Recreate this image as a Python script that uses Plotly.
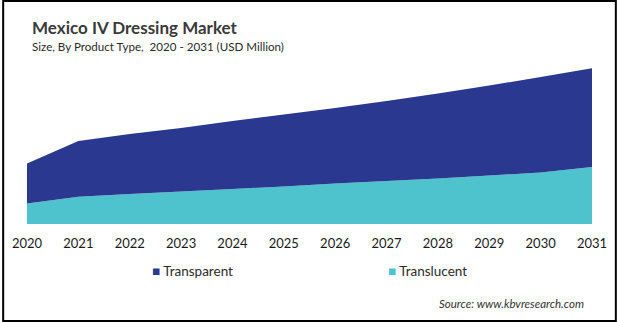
import plotly.graph_objects as go

# Market size by product type (USD Million)
years = [2020, 2021, 2022, 2023, 2024, 2025, 2026, 2027, 2028, 2029, 2030, 2031]
translucent = [20.5, 27.3, 30.0, 32.5, 35.0, 37.5, 40.5, 43.0, 45.5, 48.5, 51.5, 57.0]
transparent = [40.0, 55.7, 60.0, 63.5, 68.0, 72.0, 75.5, 80.0, 85.0, 90.0, 95.5, 98.7]
tick_labels = [str(y) for y in years]

series_names = ["Transparent", "Translucent"]
series_colors = {"Transparent": "#2B388F", "Translucent": "#4EC3CD"}

W, H = 619, 322
ML, MR, MT, MB = 25, 25, 60, 98
PW, PH = W - ML - MR, H - MT - MB

fig = go.Figure()
# bottom layer first, then the stacked layer on top
fig.add_trace(go.Scatter(
    x=years, y=translucent, name="Translucent", stackgroup="size",
    mode="none", fillcolor=series_colors["Translucent"], line=dict(width=0),
    showlegend=False,
))
fig.add_trace(go.Scatter(
    x=years, y=transparent, name="Transparent", stackgroup="size",
    mode="none", fillcolor=series_colors["Transparent"], line=dict(width=0),
    showlegend=False,
))

base_font = "Lato, 'Open Sans', sans-serif"

annotations = [
    dict(text="<b>Mexico IV Dressing Market</b>", x=28 - ML, y=27, font=dict(size=17, color="#3a3a3a")),
    dict(text="Size, By Product Type,  2020 - 2031 (USD Million)", x=28 - ML, y=47,
         font=dict(size=11.6, color="#2a2a2a")),
    dict(text="<i>Source: www.kbvresearch.com</i>", x=438 - ML, y=303,
         font=dict(size=11.5, color="#333333")),
]
legend_x = {"Transparent": 149, "Translucent": 387}
for name in series_names:
    annotations.append(dict(
        text=f"<span style='color:{series_colors[name]}'>■</span> {name}",
        x=legend_x[name] - ML, y=271, font=dict(size=13.5, color="#2a2a2a"),
    ))

fig.update_layout(
    annotations=[
        dict(
            text=a["text"], xref="paper", yref="paper",
            x=a["x"] / PW, y=1 - (a["y"] - MT) / PH,
            xanchor="left", yanchor="middle", showarrow=False, font=dict(family=base_font, **a["font"]),
        )
        for a in annotations
    ],
    width=W, height=H,
    margin=dict(l=ML, r=MR, t=MT, b=MB, pad=0),
    paper_bgcolor="white", plot_bgcolor="white",
    showlegend=False,
    xaxis=dict(
        range=[years[0], years[-1]], tickvals=years, ticktext=tick_labels,
        showgrid=False, zeroline=False, showline=False,
        ticks="outside", ticklen=7, tickcolor="rgba(0,0,0,0)",
        tickfont=dict(family=base_font, size=13, color="#1a1a1a"),
        fixedrange=True,
    ),
    yaxis=dict(range=[0, PH], visible=False, fixedrange=True),
    shapes=[dict(
        type="rect", xref="paper", yref="paper",
        x0=-(ML - 1) / PW, x1=1 + (MR - 1) / PW,
        y0=-(MB - 1) / PH, y1=1 + (MT - 1) / PH,
        line=dict(color="black", width=2), fillcolor="rgba(0,0,0,0)",
    )],
)

fig.write_html("out.html", config={"displayModeBar": False})
